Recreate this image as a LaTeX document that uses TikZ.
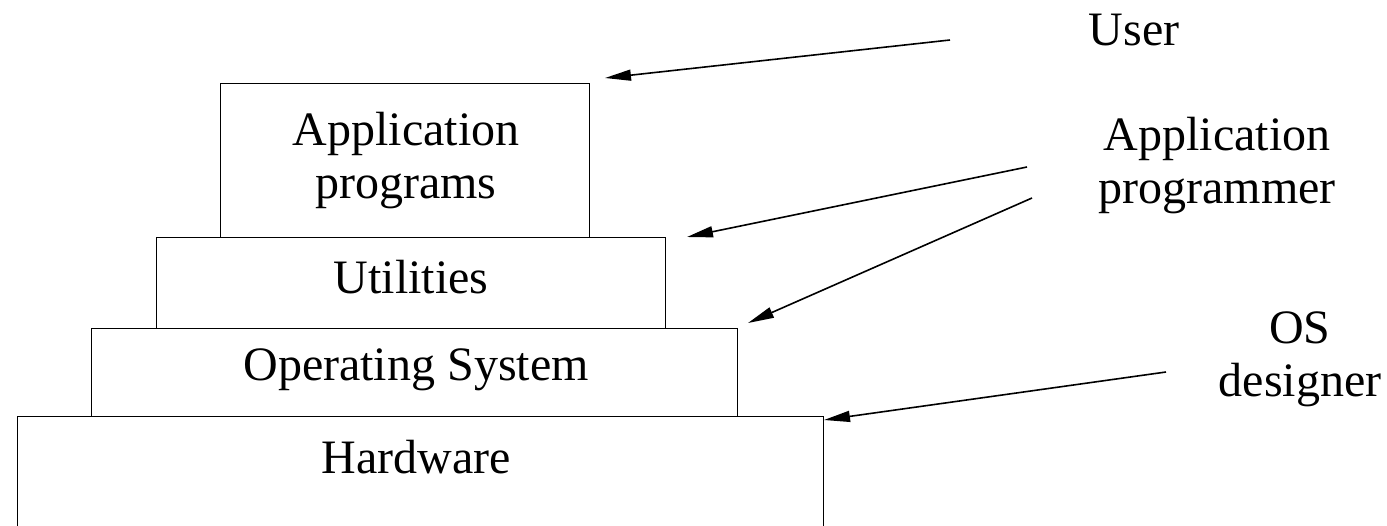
\documentclass[tikz,border=0pt]{standalone}
\usepackage{fontspec}
\setmainfont{Liberation Serif}
\usetikzlibrary{arrows.meta}
\newcommand{\linestack}[1]{\begin{tabular}[t]{@{}c@{}}#1\end{tabular}}
\begin{document}
\begin{tikzpicture}[x=1pt,y=-1pt,
  layer/.style={draw=black,line width=1.4pt,inner sep=0pt,anchor=north west},
  lbl/.style={font=\fontsize{48}{53}\selectfont,inner sep=0pt,anchor=base},
  pointer/.style={line width=1.6pt,-{Triangle[length=26pt,width=11pt]}}]
\useasboundingbox (0,0) rectangle (1387,525);
% layers
\node[layer,minimum width=369pt,minimum height=154pt] (app) at (220,83) {};
\node[layer,minimum width=509pt,minimum height=91pt] (util) at (156,237) {};
\node[layer,minimum width=646pt,minimum height=88pt] (os) at (91,328) {};
\node[layer,minimum width=806pt,minimum height=130pt] (hw) at (17,416) {};
% layer texts
\node[lbl] (apptxt) at (406,145) {\linestack{Application\\programs}};
\node[lbl] (utiltxt) at (411,293) {Utilities};
\node[lbl] (ostxt) at (416,380) {Operating System};
\node[lbl] (hwtxt) at (416,473) {Hardware};
% role labels
\node[lbl] (user) at (1134,45) {User};
\node[lbl] (aprog) at (1217,150) {\linestack{Application\\programmer}};
\node[lbl] (osd) at (1300,343) {\linestack{OS\\designer}};
% arrow ends
\coordinate (u0) at (950,40);
\coordinate (u1) at (605,78);
\coordinate (a0) at (1027,167);
\coordinate (a1) at (687,237);
\coordinate (b0) at (1032,198);
\coordinate (b1) at (748,323);
\coordinate (d0) at (1166,372);
\coordinate (d1) at (824,420);
\draw[pointer] (u0) -- (u1);
\draw[pointer] (a0) -- (a1);
\draw[pointer] (b0) -- (b1);
\draw[pointer] (d0) -- (d1);
\end{tikzpicture}
\end{document}
